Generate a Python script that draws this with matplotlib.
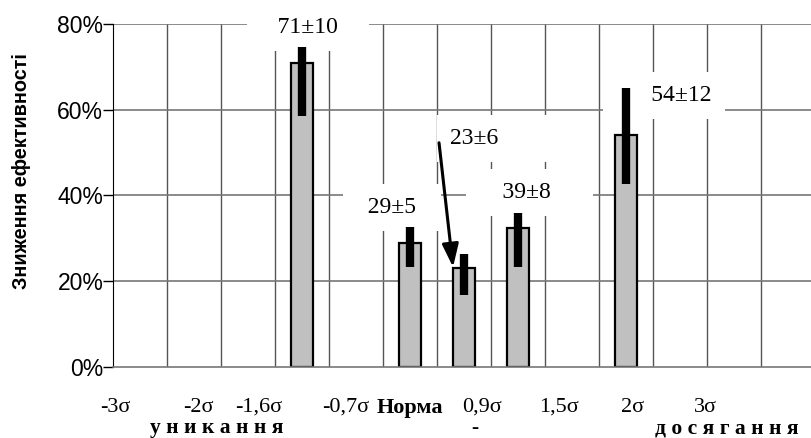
import numpy as np
import matplotlib
matplotlib.use("Agg")
from matplotlib import pyplot as plt

# bars (category slot centres on a 0..13 grid)
bar_pos = [3.5, 5.5, 6.5, 7.5, 9.5]
bar_val = [71, 29, 23, 32.4, 54]
err_lo = [58.6, 23.3, 16.8, 23.3, 42.7]
err_hi = [74.7, 32.7, 26.4, 35.9, 65.1]

# annotations (spaces widen the white label boxes like in the original)
ann_text = ["   71±10   ", "  29±5  ", "23±6        ", "    39±8     ", "      54±12"]
ann_x = [3.61, 5.17, 6.24, 7.72, 11.09]
ann_y = [79.1, 37.3, 53.4, 40.8, 63.4]
ann_ha = ["center", "center", "left", "center", "right"]

# x labels
xlab_pos = [0.04, 1.59, 2.69, 4.31, 5.50, 6.83, 8.26, 9.63, 10.98]
xlab_text = ["-3σ", "-2σ", "-1,6σ", "-0,7σ", "Норма", "0,9σ", "1,5σ", "2σ", "3σ"]

bottom_pos = [1.93, 6.70, 11.37]
bottom_text = ["у н и к а н н я", "-", "д о с я г а н н я"]

yticks = [0, 20, 40, 60, 80]

serif = "Liberation Serif"
sans = "Liberation Sans"

fig = plt.figure(figsize=(8.12, 4.38), dpi=100)
ax = fig.add_axes([113 / 812, 71 / 438, 1 - 113 / 812, 343 / 438])

ax.set_xlim(0, 12.95)
ax.set_ylim(0, 80)

# grid
for gx in range(1, 13):
    ax.axvline(gx, color="#555555", lw=1.0, zorder=0.5)
for gy in yticks[1:]:
    ax.axhline(gy, color="#777777", lw=1.2, zorder=0.5)

ax.bar(bar_pos, bar_val, width=0.4, color="#c0c0c0", edgecolor="black",
       linewidth=1.6, zorder=2)
ax.vlines(bar_pos, err_lo, err_hi, color="black", lw=6, zorder=3,
          capstyle="butt")

for t, x, y, ha in zip(ann_text, ann_x, ann_y, ann_ha):
    ax.text(x, y, t, ha=ha, va="center", fontsize=17, family=serif,
            zorder=1, bbox=dict(boxstyle="square,pad=0.55", fc="white", ec="none"))

# arrow from the 23±6 label down to its bar
ax.annotate("", xy=(6.3, 23.3), xytext=(6.04, 52.3),
            arrowprops=dict(arrowstyle="-|>,head_length=0.7,head_width=0.25",
                            color="black", lw=2.2, mutation_scale=20,
                            shrinkA=0, shrinkB=0),
            zorder=4)

for s in ["top", "right"]:
    ax.spines[s].set_visible(False)
ax.spines["left"].set_color("black")
ax.spines["bottom"].set_color("#777777")
ax.spines["bottom"].set_linewidth(1.2)

ax.set_yticks(yticks)
ax.set_yticklabels([f"{v}%" for v in yticks], fontsize=16.5, family=sans)
ax.tick_params(axis="y", length=7, width=1, pad=0)

ax.set_xticks(xlab_pos)
ax.set_xticklabels(xlab_text, fontsize=16, family=serif)
ax.tick_params(axis="x", length=0, pad=22)
for lbl in ax.get_xticklabels():
    if lbl.get_text() == "Норма":
        lbl.set_fontweight("bold")

for t, x in zip(bottom_text, bottom_pos):
    ax.text(x, -15.4, t, ha="center", va="baseline", fontsize=15.5,
            family=serif, fontweight="bold", clip_on=False)

fig.text(22 / 812, 1 - 171 / 438, "Зниження ефективності", rotation=90,
         ha="center", va="center", fontsize=14.3, family=sans,
         fontweight="bold")

fig.savefig("out.png", dpi=100)
